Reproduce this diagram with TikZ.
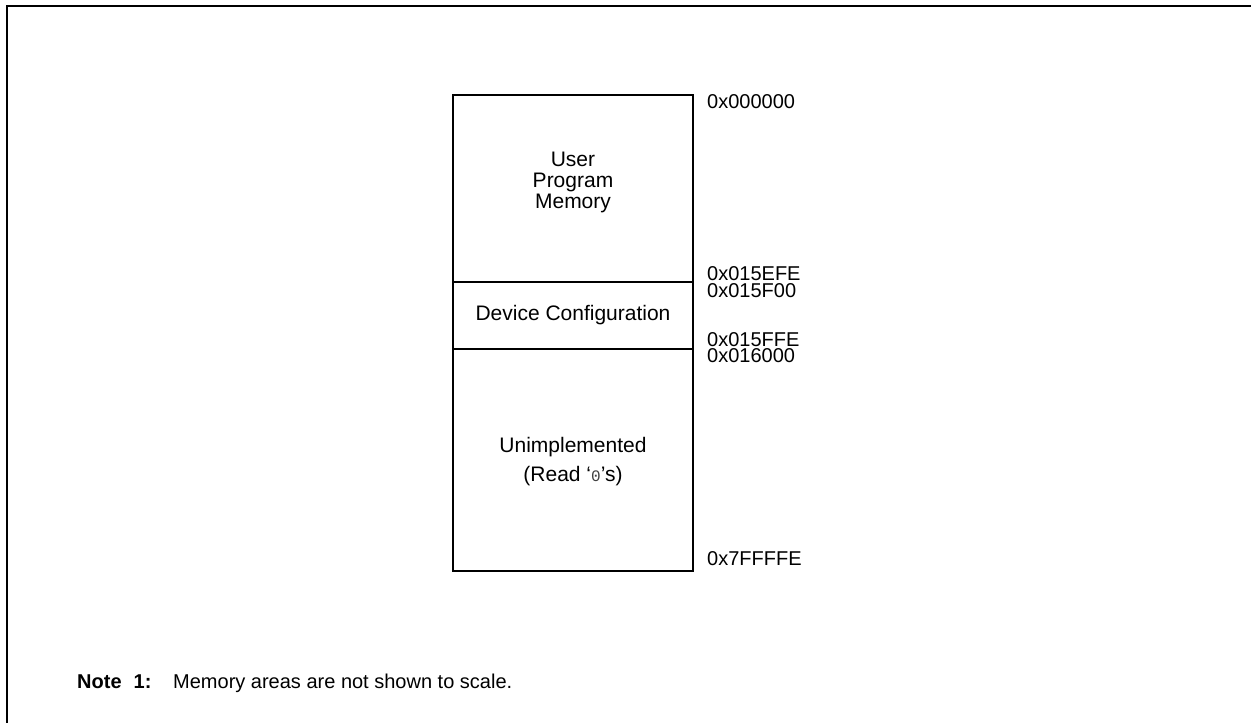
\documentclass[tikz,border=0pt]{standalone}
\usepackage{fontspec}
\setmainfont{Liberation Sans}
\newfontfamily\zerofont{Liberation Mono}
\begin{document}
\begin{tikzpicture}[x=1pt,y=-1pt,
  lab/.style={anchor=base west, inner sep=0pt, font=\fontsize{20}{22}\selectfont},
  txt/.style={anchor=base, inner sep=0pt, font=\fontsize{21}{23}\selectfont},
  frameline/.style={line width=2.5pt, line cap=rect},
  region/.style={draw, line width=2pt, minimum width=240pt, inner sep=0pt}]
\useasboundingbox (0,0) rectangle (1251,723);
\coordinate (fbl) at (7,723);
\coordinate (ftl) at (7,6);
\coordinate (ftr) at (1251,6);
\draw[frameline] (fbl) -- (ftl) -- (ftr);

\node[region, minimum height=187pt] (upm) at (573,188.5) {};
\node[region, minimum height=67pt] (dev) at (573,315.5) {};
\node[region, minimum height=222pt] (unimp) at (573,460) {};

\node[txt] (t1) at (573,166) {User};
\node[txt] (t2) at (573,187) {Program};
\node[txt] (t3) at (573,208) {Memory};
\node[txt] (t4) at (573,320) {Device Configuration};
\node[txt] (t5) at (573,452) {Unimplemented};
\node[txt] (t6) at (573,481) {(Read ‘{\zerofont\fontsize{16}{16}\selectfont\color{black!75}0}’s)};

\node[lab] (a1) at (707,108) {0x000000};
\node[lab] (a2) at (707,280) {0x015EFE};
\node[lab] (a3) at (707,297) {0x015F00};
\node[lab] (a4) at (707,346) {0x015FFE};
\node[lab] (a5) at (707,362) {0x016000};
\node[lab] (a6) at (707,565) {0x7FFFFE};

\node[anchor=base west, inner sep=0pt, font=\bfseries\fontsize{20}{22}\selectfont] (n1) at (77,688) {Note\hspace{12pt}1:};
\node[anchor=base west, inner sep=0pt, font=\fontsize{20}{22}\selectfont] (n2) at (173,688) {Memory areas are not shown to scale.};
\end{tikzpicture}
\end{document}
